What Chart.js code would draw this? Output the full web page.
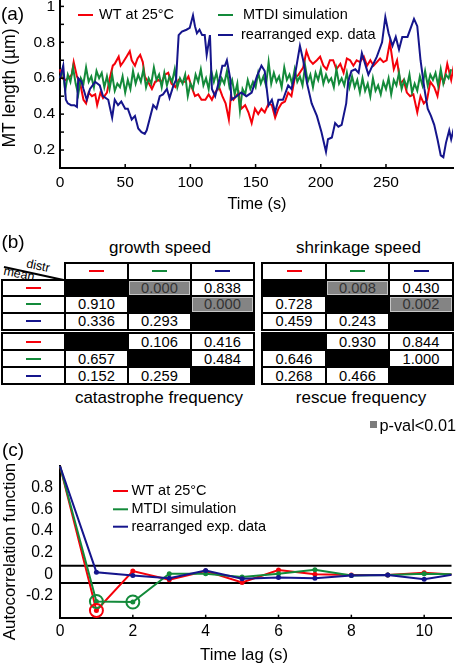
<!DOCTYPE html>
<html>
<head>
<meta charset="utf-8">
<script src="https://cdn.jsdelivr.net/npm/chart.js@4.4.1/dist/chart.umd.min.js"></script>
<style>
  html, body { margin: 0; padding: 0; background: #fff; }
  body { width: 460px; height: 666px; position: relative; overflow: hidden;
         font-family: "Liberation Sans", Arial, sans-serif; color: #000; }
  #panelA { position: absolute; left: 0; top: 0; width: 460px; height: 219px; }
  #panelC { position: absolute; left: 0; top: 426px; width: 460px; height: 240px; }
  .txt { position: absolute; white-space: nowrap; line-height: 1.15; }
  .blk { position: absolute; box-sizing: border-box; display: flex;
         align-items: center; justify-content: center; }
</style>
</head>
<body>
<div id="panelA"><canvas id="lengthChart"></canvas></div>
<div id="panelC"><canvas id="acfChart"></canvas></div>
<script>
// ==========================================
// DATA
// ==========================================
const seriesNames = ['WT at 25°C', 'MTDI simulation', 'rearranged exp. data'];
const seriesColors = ['#f5000a', '#138a3a', '#15158c'];

// (a) MT length vs time
const wtTime = [
  0, 1.5, 4, 6.5, 9, 10.5, 13, 15.5, 18, 20,
  22, 24.5, 27, 28.5, 31, 33, 36, 38.5, 40.5, 42,
  45, 46.5, 48.5, 51, 53.5, 55, 57.5, 59.5, 61.5, 63.5,
  65, 67.5, 70.5, 73, 75.5, 78, 80.5, 83, 85.5, 88.5,
  91, 93.5, 96, 98.5, 101, 103.5, 106, 108.5, 111.5, 114,
  116.5, 119, 122, 124.5, 127, 129.5, 131, 133, 137, 139,
  142, 144.5, 147, 149.5, 152, 154.5, 157, 160, 162.5, 165,
  167.5, 170, 172.5, 175, 177.5, 180, 183, 186.5, 189, 191.5,
  194, 197, 199.5, 202, 204.5, 207, 209.5, 212, 215, 217.5,
  220, 222.5, 225, 227.5, 230, 233, 235.5, 238, 240.5, 243,
  245.5, 248, 250.5, 253, 256, 258.5, 261, 263.5, 266, 268.5,
  271, 274, 276.5, 279, 281.5, 284, 287, 289.5, 292, 294.5,
  297, 300, 302
];
const wtLength = [
  0.65, 0.60, 0.59, 0.60, 0.62, 0.69, 0.61, 0.57, 0.48, 0.46,
  0.52, 0.50, 0.51, 0.45, 0.52, 0.49, 0.52, 0.61, 0.67, 0.68,
  0.72, 0.67, 0.69, 0.72, 0.75, 0.70, 0.67, 0.71, 0.73, 0.69,
  0.61, 0.58, 0.54, 0.58, 0.59, 0.58, 0.62, 0.63, 0.57, 0.55,
  0.59, 0.58, 0.58, 0.61, 0.55, 0.50, 0.51, 0.48, 0.48, 0.51,
  0.48, 0.52, 0.55, 0.50, 0.46, 0.37, 0.50, 0.48, 0.52, 0.43,
  0.45, 0.41, 0.35, 0.43, 0.40, 0.43, 0.41, 0.46, 0.45, 0.38,
  0.43, 0.46, 0.47, 0.52, 0.50, 0.60, 0.62, 0.66, 0.75, 0.70,
  0.68, 0.70, 0.72, 0.67, 0.65, 0.70, 0.70, 0.65, 0.68, 0.63,
  0.71, 0.70, 0.67, 0.70, 0.69, 0.72, 0.67, 0.70, 0.67, 0.69,
  0.71, 0.69, 0.70, 0.80, 0.65, 0.70, 0.57, 0.59, 0.52, 0.50,
  0.51, 0.41, 0.50, 0.46, 0.48, 0.58, 0.55, 0.50, 0.61, 0.58,
  0.68, 0.59, 0.67
];
const simTime = [
  0, 2, 4, 6, 8, 10, 12, 14, 16, 18,
  20, 22, 24, 26, 28, 30, 32, 34, 36, 38,
  40, 42, 44, 46, 48, 50, 52, 54, 56, 58,
  60, 62, 64, 66, 68, 70, 72, 74, 76, 78,
  80, 82, 84, 86, 88, 90, 92, 94, 96, 98,
  100, 102, 104, 106, 108, 110, 112, 114, 116, 118,
  120, 122, 124, 126, 128, 130, 132, 134, 136, 138,
  140, 142, 144, 146, 148, 150, 152, 154, 156, 158,
  160, 162, 164, 166, 168, 170, 172, 174, 176, 178,
  180, 182, 184, 186, 188, 190, 192, 194, 196, 198,
  200, 202, 204, 206, 208, 210, 212, 214, 216, 218,
  220, 222, 224, 226, 228, 230, 232, 234, 236, 238,
  240, 242, 244, 246, 248, 250, 252, 254, 256, 258,
  260, 262, 264, 266, 268, 270, 272, 274, 276, 278,
  280, 282, 284, 286, 288, 290, 292, 294, 296, 298,
  300
];
const simLength = [
  0.60, 0.65, 0.53, 0.62, 0.58, 0.66, 0.57, 0.51, 0.60, 0.57,
  0.66, 0.58, 0.61, 0.55, 0.64, 0.60, 0.63, 0.55, 0.61, 0.54,
  0.62, 0.53, 0.57, 0.55, 0.61, 0.52, 0.59, 0.54, 0.64, 0.57,
  0.62, 0.58, 0.65, 0.55, 0.60, 0.57, 0.66, 0.59, 0.62, 0.55,
  0.63, 0.56, 0.61, 0.58, 0.65, 0.55, 0.60, 0.57, 0.62, 0.50,
  0.57, 0.54, 0.62, 0.58, 0.65, 0.56, 0.60, 0.54, 0.64, 0.58,
  0.63, 0.55, 0.60, 0.57, 0.64, 0.55, 0.59, 0.51, 0.57, 0.42,
  0.54, 0.51, 0.59, 0.54, 0.58, 0.55, 0.63, 0.57, 0.61, 0.56,
  0.69, 0.57, 0.63, 0.58, 0.61, 0.55, 0.66, 0.59, 0.62, 0.57,
  0.65, 0.58, 0.61, 0.56, 0.67, 0.58, 0.62, 0.55, 0.63, 0.59,
  0.65, 0.57, 0.62, 0.58, 0.60, 0.55, 0.65, 0.57, 0.60, 0.56,
  0.63, 0.55, 0.61, 0.55, 0.59, 0.52, 0.60, 0.53, 0.57, 0.50,
  0.60, 0.53, 0.56, 0.51, 0.58, 0.54, 0.60, 0.51, 0.59, 0.56,
  0.63, 0.54, 0.59, 0.55, 0.62, 0.52, 0.57, 0.53, 0.61, 0.56,
  0.64, 0.56, 0.62, 0.59, 0.63, 0.56, 0.65, 0.57, 0.62, 0.60,
  0.65
];
const expTime = [
  0, 2.5, 4.5, 6, 8.5, 11, 13, 14, 16.5, 18,
  20.5, 23, 27, 30.5, 33, 37, 40, 42, 44.5, 47,
  50, 52, 55, 57.5, 60, 62.5, 65, 66.5, 69, 71.5,
  74, 76.5, 79, 82, 84, 87, 89, 91, 93.5, 97,
  99.5, 102, 103.5, 105, 107, 109, 111, 112.5, 115, 116.5,
  119, 122.5, 124.5, 126.5, 128, 130.5, 131.5, 135.5, 139, 143,
  147, 151, 154.5, 157, 160, 162.5, 165, 167.5, 171, 175,
  177.5, 180, 184, 186.5, 189.5, 193, 197, 200.5, 204, 205.5,
  208.5, 211, 213.5, 216, 219.5, 221, 223.5, 226.5, 229, 231.5,
  234, 236.5, 239, 243, 247, 249.5, 252, 255, 257.5, 260,
  262.5, 266.5, 269.5, 271.5, 274, 276.5, 279.5, 282, 284.5, 287,
  289.5, 292, 294, 296, 298.5, 300, 302
];
const expLength = [
  0.60, 0.67, 0.48, 0.46, 0.45, 0.45, 0.44, 0.60, 0.58, 0.54,
  0.48, 0.54, 0.58, 0.56, 0.50, 0.48, 0.38, 0.48, 0.45, 0.47,
  0.43, 0.43, 0.37, 0.39, 0.32, 0.30, 0.29, 0.31, 0.38, 0.45,
  0.43, 0.50, 0.51, 0.54, 0.49, 0.56, 0.59, 0.84, 0.86, 0.87,
  0.88, 0.95, 0.89, 0.85, 0.87, 0.84, 0.84, 0.73, 0.84, 0.54,
  0.50, 0.60, 0.67, 0.67, 0.70, 0.60, 0.48, 0.50, 0.52, 0.50,
  0.52, 0.61, 0.67, 0.64, 0.45, 0.48, 0.41, 0.48, 0.48, 0.56,
  0.54, 0.61, 0.78, 0.70, 0.57, 0.46, 0.39, 0.30, 0.19, 0.26,
  0.27, 0.35, 0.33, 0.34, 0.46, 0.58, 0.64, 0.65, 0.63, 0.74,
  0.68, 0.62, 0.66, 0.72, 0.80, 0.94, 0.85, 0.78, 0.83, 0.76,
  0.83, 0.83, 0.89, 0.93, 0.89, 0.70, 0.54, 0.43, 0.39, 0.34,
  0.26, 0.17, 0.16, 0.24, 0.31, 0.26, 0.32
];
const timeTicks = [0, 50, 100, 150, 200, 250];
const lengthTicks = [0.2, 0.4, 0.6, 0.8, 1];
const lengthMinorTicks = [0.2, 0.3, 0.4, 0.5, 0.6, 0.7, 0.8, 0.9, 1];

// (b) p-values, rows = mean / cols = distr (null = diagonal)
const pThreshold = 0.01;
const growthP  = [[null, 0.000, 0.838], [0.910, null, 0.000], [0.336, 0.293, null]];
const shrinkP  = [[null, 0.008, 0.430], [0.728, null, 0.002], [0.459, 0.243, null]];
const catastP  = [[null, 0.106, 0.416], [0.657, null, 0.484], [0.152, 0.259, null]];
const rescueP  = [[null, 0.930, 0.844], [0.646, null, 1.000], [0.268, 0.466, null]];

// (c) autocorrelation
const lags = [0, 1, 2, 3, 4, 5, 6, 7, 8, 9, 10, 11];
const wtAcf  = [1.0, -0.333, 0.03, -0.05, 0.03, -0.075, 0.04, 0.0, -0.005, -0.005, 0.015, -0.005];
const simAcf = [1.0, -0.25, -0.255, 0.005, 0.005, -0.025, 0.005, 0.043, -0.01, -0.005, 0.005, 0.0];
const expAcf = [1.0, 0.02, -0.01, -0.035, 0.035, -0.04, -0.03, -0.035, -0.01, -0.005, -0.045, 0.01];
const wtMarkedLags = [1];
const simMarkedLags = [1, 2];
const acfBounds = [0.08, -0.08];
const lagTicks = [0, 2, 4, 6, 8, 10];
const acfTicks = [-0.2, 0, 0.2, 0.4, 0.6, 0.8];

// ==========================================
// HELPERS / PLUGINS
// ==========================================
const FONT = '"Liberation Sans", Arial, sans-serif';
Chart.defaults.font.family = FONT;
Chart.defaults.color = '#000';

const toPoints = (xs, ys) => xs.map((x, i) => ({ x: x, y: ys[i] }));
const fmtTick = v => String(Number(v.toFixed(1)));

// short tick marks pointing into the plot
const innerTicks = {
    id: 'innerTicks',
    afterDraw(chart, args, opts) {
        const ctx = chart.ctx;
        const { left, bottom } = chart.chartArea;
        ctx.save();
        ctx.strokeStyle = '#000';
        ctx.lineWidth = 1.5;
        (opts.x || []).forEach(v => {
            const px = chart.scales.x.getPixelForValue(v);
            ctx.beginPath(); ctx.moveTo(px, bottom); ctx.lineTo(px, bottom - opts.len); ctx.stroke();
        });
        (opts.y || []).forEach(v => {
            const py = chart.scales.y.getPixelForValue(v);
            ctx.beginPath(); ctx.moveTo(left, py); ctx.lineTo(left + opts.len, py); ctx.stroke();
        });
        ctx.restore();
    }
};

// horizontal significance bounds
const boundLines = {
    id: 'boundLines',
    beforeDatasetsDraw(chart, args, opts) {
        const { ctx, chartArea: { left, right }, scales: { y } } = chart;
        ctx.save();
        ctx.strokeStyle = '#000';
        ctx.lineWidth = 2;
        (opts.values || []).forEach(v => {
            const py = y.getPixelForValue(v);
            ctx.beginPath(); ctx.moveTo(left, py); ctx.lineTo(right, py); ctx.stroke();
        });
        ctx.restore();
    }
};

// free-placed legend entries and axis titles
const figureText = {
    id: 'figureText',
    afterDraw(chart, args, opts) {
        const ctx = chart.ctx;
        ctx.save();
        ctx.textBaseline = 'middle';
        (opts.legend || []).forEach((item, i) => {
            const ds = chart.data.datasets[i];
            ctx.strokeStyle = ds.borderColor;
            ctx.lineWidth = 2;
            ctx.beginPath(); ctx.moveTo(item.x, item.y); ctx.lineTo(item.x + 15, item.y); ctx.stroke();
            ctx.fillStyle = '#000';
            ctx.font = opts.legendFont;
            ctx.textAlign = 'left';
            ctx.fillText(ds.label, item.textX, item.y);
        });
        (opts.titles || []).forEach(t => {
            ctx.save();
            ctx.translate(t.x, t.y);
            ctx.rotate(t.rot || 0);
            ctx.font = t.font;
            ctx.fillStyle = '#000';
            ctx.textAlign = 'center';
            ctx.fillText(t.text, 0, 0);
            ctx.restore();
        });
        ctx.restore();
    }
};

function addText(str, x, y, size, rot) {
    const el = document.createElement('div');
    el.className = 'txt';
    el.textContent = str;
    el.style.left = x + 'px';
    el.style.top = y + 'px';
    el.style.fontSize = size + 'px';
    el.style.transform = 'translate(-50%, -50%)' + (rot ? ' rotate(' + rot + 'deg)' : '');
    document.body.appendChild(el);
    return el;
}

// ==========================================
// (a) MT LENGTH TRACES
// ==========================================
new Chart(document.getElementById('lengthChart'), {
    type: 'line',
    data: {
        datasets: [
            { label: seriesNames[0], data: toPoints(wtTime, wtLength), borderColor: seriesColors[0], order: 3 },
            { label: seriesNames[1], data: toPoints(simTime, simLength), borderColor: seriesColors[1], order: 2 },
            { label: seriesNames[2], data: toPoints(expTime, expLength), borderColor: seriesColors[2], order: 1 }
        ]
    },
    options: {
        responsive: true,
        maintainAspectRatio: false,
        animation: false,
        layout: { padding: { top: 1, right: 7, left: 0, bottom: 0 } },
        elements: {
            line: { borderWidth: 2, tension: 0 },
            point: { radius: 0 }
        },
        datasets: { line: { clip: { left: 2, top: 2, right: 0, bottom: 2 } } },
        plugins: {
            legend: { display: false },
            tooltip: { enabled: false },
            innerTicks: { x: timeTicks, y: lengthMinorTicks, len: 4 },
            figureText: {
                legendFont: '14.5px ' + FONT,
                legend: [
                    { x: 78, y: 15, textX: 99 },
                    { x: 218, y: 15, textX: 243 },
                    { x: 218, y: 35, textX: 241 }
                ],
                titles: [
                    { text: 'Time (s)', x: 257, y: 205, font: '16.3px ' + FONT },
                    { text: 'MT length (µm)', x: 10, y: 88, rot: -Math.PI / 2, font: '17.5px ' + FONT }
                ]
            }
        },
        scales: {
            x: {
                type: 'linear',
                min: 0,
                max: 301.4,
                grid: { display: false, drawTicks: false },
                border: { color: '#000', width: 2 },
                afterBuildTicks: s => { s.ticks = timeTicks.map(v => ({ value: v })); },
                afterFit: s => { s.height = 51; s.paddingLeft = 0; s.paddingRight = 0; },
                ticks: { padding: 5, autoSkip: false, maxRotation: 0, font: { size: 15.5 } }
            },
            y: {
                min: 0.1,
                max: 1.03,
                grid: { display: false, drawTicks: false },
                border: { color: '#000', width: 2 },
                afterBuildTicks: s => { s.ticks = lengthTicks.map(v => ({ value: v })); },
                afterFit: s => { s.width = 60; s.paddingTop = 0; s.paddingBottom = 0; },
                ticks: { padding: 5, autoSkip: false, font: { size: 15.5 }, callback: v => fmtTick(v) }
            }
        }
    },
    plugins: [innerTicks, figureText]
});

// ==========================================
// (b) P-VALUE TABLE
// ==========================================
const leftCols = [2, 65, 128, 191, 254];
const rightCols = [262, 326, 389, 453];
const headRow = [263, 279.5];
const upperRows = [279.5, 296, 312.5, 329.5];
const lowerRows = [333, 350, 367, 384];

function box(x0, y0, x1, y1, bg) {
    const d = document.createElement('div');
    d.className = 'blk';
    d.style.left = x0 + 'px';
    d.style.top = y0 + 'px';
    d.style.width = (x1 - x0) + 'px';
    d.style.height = (y1 - y0) + 'px';
    d.style.background = bg;
    document.body.appendChild(d);
    return d;
}
const frame = (x0, y0, x1, y1) => box(x0 - 1, y0 - 1, x1 + 1, y1 + 1, '#000');
const cell = (x0, y0, x1, y1) => box(x0 + 1, y0 + 1, x1 - 1, y1 - 1, '#fff');
function dash(c, color) {
    const s = document.createElement('div');
    s.style.cssText = 'width:15px;height:2px;background:' + color;
    c.appendChild(s);
}

function drawHeader(cols) {
    frame(cols[0], headRow[0], cols[3], headRow[1]);
    for (let j = 0; j < 3; j++) dash(cell(cols[j], headRow[0], cols[j + 1], headRow[1]), seriesColors[j]);
}

function drawBlock(cols, rows, values, withRowHeader) {
    frame(withRowHeader ? leftCols[0] : cols[0], rows[0], cols[3], rows[3]);
    for (let i = 0; i < 3; i++) {
        if (withRowHeader) dash(cell(leftCols[0], rows[i], leftCols[1], rows[i + 1]), seriesColors[i]);
        for (let j = 0; j < 3; j++) {
            const p = values[i][j];
            if (p === null) continue;
            const c = cell(cols[j], rows[i], cols[j + 1], rows[i + 1]);
            c.textContent = p.toFixed(3);
            c.style.fontSize = '14.7px';
            if (p < pThreshold) {
                c.style.background = '#848484';
                c.style.border = '1px solid #c6c6c6';
                c.style.color = '#333';
            }
        }
    }
}

drawHeader(leftCols.slice(1));
drawHeader(rightCols);
drawBlock(leftCols.slice(1), upperRows, growthP, true);
drawBlock(rightCols, upperRows, shrinkP, false);
drawBlock(leftCols.slice(1), lowerRows, catastP, true);
drawBlock(rightCols, lowerRows, rescueP, false);

// corner cell: diagonal with "distr" / "mean"
const diag = document.createElement('div');
diag.style.cssText = 'position:absolute;left:4px;top:266px;width:61px;height:1.5px;background:#000;' +
    'transform-origin:0 50%;transform:rotate(12.3deg);';
document.body.appendChild(diag);
addText('distr', 38, 266, 12.5, 12);
addText('mean', 19, 273.5, 12.5, 12);

addText('growth speed', 160, 248, 17);
addText('shrinkage speed', 358.5, 248, 17);
addText('catastrophe frequency', 159, 398, 17);
addText('rescue frequency', 361, 398, 17);

box(369.5, 421, 376.5, 428, '#7c7c7c');
const pLegend = addText('p-val<0.01', 379.5, 424.5, 16.3);
pLegend.style.transform = 'translate(0, -50%)';

// panel letters
addText('(a)', 12.5, 14, 19);
addText('(b)', 13, 242, 19);
addText('(c)', 13, 450, 19);

// ==========================================
// (c) AUTOCORRELATION
// ==========================================
const markedPoints = (marked, values) => marked.map(l => ({ x: l, y: values[lags.indexOf(l)] }));
const dotRadius = c => (c.dataIndex === 0 ? 0 : 2.5);

new Chart(document.getElementById('acfChart'), {
    type: 'line',
    data: {
        datasets: [
            { label: seriesNames[0], data: toPoints(lags, wtAcf), borderColor: seriesColors[0],
              pointBackgroundColor: seriesColors[0], pointRadius: dotRadius, order: 3 },
            { label: seriesNames[1], data: toPoints(lags, simAcf), borderColor: seriesColors[1],
              pointBackgroundColor: seriesColors[1], pointRadius: dotRadius, order: 2 },
            { label: seriesNames[2], data: toPoints(lags, expAcf), borderColor: seriesColors[2],
              pointBackgroundColor: seriesColors[2], pointRadius: dotRadius, order: 1 },
            { label: 'marked WT', data: markedPoints(wtMarkedLags, wtAcf), showLine: false,
              pointRadius: 6.5, pointBorderWidth: 2, pointBorderColor: seriesColors[0],
              pointBackgroundColor: 'rgba(0,0,0,0)', borderColor: seriesColors[0], order: 0 },
            { label: 'marked sim', data: markedPoints(simMarkedLags, simAcf), showLine: false,
              pointRadius: 6.5, pointBorderWidth: 2, pointBorderColor: seriesColors[1],
              pointBackgroundColor: 'rgba(0,0,0,0)', borderColor: seriesColors[1], order: 0 }
        ]
    },
    options: {
        responsive: true,
        maintainAspectRatio: false,
        animation: false,
        layout: { padding: { top: 40, right: 3, left: 0, bottom: 0 } },
        elements: {
            line: { borderWidth: 2, tension: 0 },
            point: { radius: 2.5, borderWidth: 0 }
        },
        datasets: { line: { clip: { left: 8, top: 8, right: 0, bottom: 8 } } },
        plugins: {
            legend: { display: false },
            tooltip: { enabled: false },
            boundLines: { values: acfBounds },
            innerTicks: { x: lagTicks, len: 3 },
            figureText: {
                legendFont: '14.5px ' + FONT,
                legend: [
                    { x: 113, y: 65, textX: 131.5 },
                    { x: 113, y: 83.3, textX: 131.5 },
                    { x: 113, y: 100.7, textX: 131.5 }
                ],
                titles: [
                    { text: 'Time lag (s)', x: 244, y: 229, font: '16.8px ' + FONT },
                    { text: 'Autocorrelation function', x: 10, y: 125.5, rot: -Math.PI / 2, font: '16.9px ' + FONT }
                ]
            }
        },
        scales: {
            x: {
                type: 'linear',
                min: 0,
                max: 10.75,
                grid: { display: false, drawTicks: false },
                border: { color: '#000', width: 2 },
                afterBuildTicks: s => { s.ticks = lagTicks.map(v => ({ value: v })); },
                afterFit: s => { s.height = 48.3; s.paddingLeft = 0; s.paddingRight = 0; },
                ticks: { padding: 4.6, autoSkip: false, maxRotation: 0, font: { size: 15.7 } }
            },
            y: {
                min: -0.4,
                max: 1.0,
                grid: { display: false, drawTicks: false },
                border: { color: '#000', width: 2 },
                afterBuildTicks: s => { s.ticks = acfTicks.map(v => ({ value: v })); },
                afterFit: s => { s.width = 60; s.paddingTop = 0; s.paddingBottom = 0; },
                ticks: { padding: 7, autoSkip: false, font: { size: 15.7 }, callback: v => fmtTick(v) }
            }
        }
    },
    plugins: [boundLines, innerTicks, figureText]
});
</script>
</body>
</html>
